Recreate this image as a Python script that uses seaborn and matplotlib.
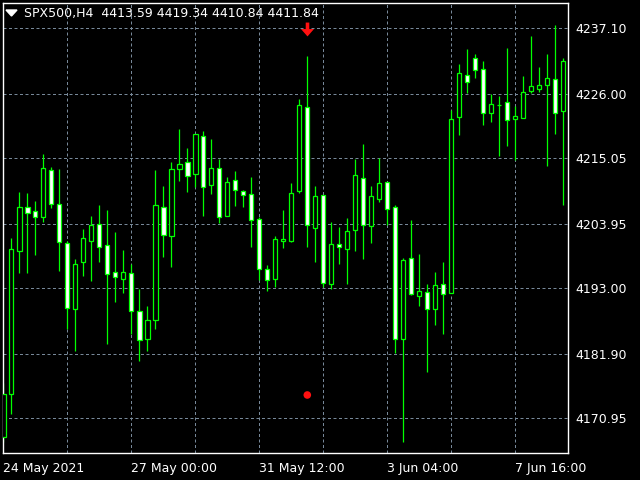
import numpy as np
import pandas as pd
import matplotlib
matplotlib.use("Agg")
import matplotlib.pyplot as plt
import seaborn as sns
from matplotlib.patches import Polygon
from matplotlib.path import Path

# ---------------- data ----------------
title_text = "SPX500,H4  4413.59 4419.34 4410.84 4411.84"

opens = [4167.73, 4175.02, 4199.33, 4206.74, 4206.16, 4205.14, 4213.01, 4207.30, 4200.63, 4189.44,
         4197.41, 4201.02, 4203.91, 4200.34, 4195.71, 4194.53, 4195.54, 4189.10, 4184.45, 4187.57,
         4206.74, 4201.82, 4213.29, 4214.37, 4212.34, 4218.78, 4210.47, 4213.45, 4205.21, 4211.32,
         4209.45, 4208.99, 4204.70, 4196.22, 4194.53, 4201.02, 4201.02, 4209.55, 4223.80, 4203.28,
         4208.77, 4193.68, 4200.46, 4199.61, 4202.94, 4211.66, 4203.52, 4208.20, 4210.98, 4206.74,
         4184.35, 4198.09, 4191.74, 4192.42, 4189.54, 4193.68, 4192.15, 4222.00, 4229.13, 4232.01,
         4230.15, 4222.68, 4224.04, 4224.55, 4221.66, 4221.83, 4226.41, 4226.85, 4227.53, 4228.45,
         4223.02]
highs = [4176.88, 4201.53, 4209.28, 4209.16, 4207.81, 4215.78, 4213.57, 4213.23, 4201.02, 4197.97,
         4203.01, 4205.26, 4207.13, 4206.28, 4202.55, 4199.50, 4197.12, 4192.83, 4190.00, 4213.01,
         4210.35, 4214.37, 4220.02, 4216.75, 4219.12, 4219.63, 4218.32, 4214.98, 4211.83, 4212.84,
         4209.67, 4211.88, 4205.04, 4196.95, 4201.87, 4206.28, 4210.86, 4225.11, 4232.40, 4210.40,
         4208.87, 4204.30, 4203.35, 4204.92, 4214.88, 4217.47, 4210.35, 4215.10, 4210.98, 4207.08,
         4198.09, 4204.58, 4198.82, 4193.73, 4195.76, 4197.46, 4223.24, 4231.04, 4233.54, 4232.74,
         4231.55, 4226.01, 4225.57, 4233.71, 4223.87, 4229.01, 4235.79, 4230.53, 4232.74, 4237.66,
         4232.06]
lows = [4166.88, 4171.63, 4195.64, 4195.64, 4198.65, 4204.30, 4206.67, 4195.98, 4186.04, 4182.41,
        4195.14, 4194.29, 4197.51, 4183.60, 4190.73, 4192.25, 4185.20, 4180.72, 4182.36, 4186.10,
        4198.26, 4196.66, 4211.20, 4209.38, 4210.23, 4205.31, 4209.04, 4204.02, 4205.21, 4207.01,
        4206.74, 4200.05, 4194.41, 4192.59, 4193.27, 4199.78, 4200.90, 4209.21, 4200.05, 4197.51,
        4193.27, 4192.88, 4197.12, 4193.68, 4199.38, 4197.92, 4200.73, 4207.69, 4203.74, 4181.97,
        4166.98, 4191.86, 4190.05, 4178.75, 4186.82, 4185.30, 4192.15, 4219.05, 4226.07, 4228.67,
        4220.75, 4221.26, 4215.49, 4217.19, 4214.76, 4221.83, 4226.18, 4226.30, 4213.79, 4219.22,
        4207.18]
closes = [4175.07, 4199.61, 4206.74, 4205.72, 4205.04, 4213.35, 4207.25, 4200.80, 4189.71, 4197.07,
          4201.53, 4203.68, 4200.05, 4195.37, 4194.86, 4195.71, 4189.10, 4184.18, 4187.57, 4207.08,
          4201.99, 4213.18, 4214.03, 4212.00, 4219.12, 4210.13, 4213.35, 4205.04, 4210.98, 4209.62,
          4208.77, 4204.53, 4196.22, 4194.36, 4201.41, 4201.36, 4209.16, 4224.04, 4203.68, 4208.60,
          4193.85, 4200.46, 4199.95, 4202.72, 4212.17, 4203.68, 4208.60, 4210.81, 4206.50, 4184.45,
          4197.80, 4191.98, 4192.59, 4189.44, 4193.56, 4191.98, 4221.66, 4229.47, 4227.94, 4229.98,
          4222.68, 4224.21, 4224.04, 4221.50, 4222.17, 4226.24, 4227.26, 4227.43, 4228.67, 4222.78,
          4231.50]

time_labels = ["24 May 2021", "27 May 00:00", "31 May 12:00", "3 Jun 04:00", "7 Jun 16:00"]
time_label_bars = [0, 16, 32, 48, 64]
price_ticks = [4170.95, 4181.90, 4193.00, 4203.95, 4215.05, 4226.00, 4237.10]

signal_bar = 38
signal_arrow_price = 4236.90
signal_dot_price = 4174.90

# ---------------- styling ----------------
GREEN = "#00ff00"
GRID = "#778899"
RED = "#ff1010"

sns.set_style("dark", rc={
    "axes.facecolor": "black",
    "figure.facecolor": "black",
    "axes.edgecolor": "white",
    "text.color": "white",
    "xtick.color": "white",
    "ytick.color": "white",
    "axes.grid": False,
})
plt.rcParams["font.family"] = ["DejaVu Sans"]

df = pd.DataFrame({"open": opens, "high": highs, "low": lows, "close": closes})
df["bar"] = np.arange(len(df))
df["bear"] = df["close"] < df["open"]

fig = plt.figure(figsize=(6.4, 4.8), dpi=100)
W, H = 640, 480
ax = fig.add_axes([2.7 / W, 26.7 / H, (568 - 2.7) / W, (453.3 - 2.7) / H])
ax.set_facecolor("black")

# grid
for p in price_ticks:
    ax.axhline(p, color=GRID, lw=0.72, ls=(0, (3, 2.5)), zorder=0)
for b in range(8, 70, 8):
    ax.axvline(b, color=GRID, lw=0.72, ls=(0, (3, 2.5)), zorder=0)

# wicks
ax.vlines(df["bar"], df["low"], df["high"], color=GREEN, lw=0.9, zorder=2)
# bodies
bottoms = np.minimum(df["open"], df["close"])
heights = (df["close"] - df["open"]).abs()
ax.bar(df["bar"], heights, bottom=bottoms, width=0.55,
       color=np.where(df["bear"], "white", "black"),
       edgecolor=GREEN, linewidth=0.9, zorder=3)

# sell arrow (custom down-arrow marker) and signal dot
arrow_marker = Path([(-1.6, 6.2), (1.6, 6.2), (1.6, 0.4), (5.8, 0.4), (0, -6.2),
                     (-5.8, 0.4), (-1.6, 0.4), (-1.6, 6.2)], closed=True)
ax.plot([signal_bar], [signal_arrow_price], marker=arrow_marker, ms=10,
        color=RED, mec=RED, mew=0, ls="none", zorder=5)
sig = pd.DataFrame({"bar": [signal_bar], "price": [signal_dot_price]})
sns.scatterplot(data=sig, x="bar", y="price", ax=ax, color=RED, s=30,
                edgecolor="none", zorder=5, legend=False)

ax.set_xlim(-0.075, 70.5875)
ax.set_ylim(4165.01, 4241.44)
ax.set_xlabel("")
ax.set_ylabel("")

# axes ticks
ax.yaxis.tick_right()
ax.set_yticks(price_ticks)
ax.set_yticklabels([f"{p:.2f}" for p in price_ticks], fontsize=9)
ax.tick_params(axis="y", length=0, pad=5)
ax.set_xticks(time_label_bars)
ax.set_xticklabels(time_labels, fontsize=9, ha="left")
ax.tick_params(axis="x", length=3, width=0.8, pad=3, color="white")
for s in ax.spines.values():
    s.set_color("white")
    s.set_linewidth(1.0)
    s.set_visible(True)

# title block
tri = Polygon([(6 / W, 1 - 10 / H), (17 / W, 1 - 10 / H), (11.5 / W, 1 - 16 / H)],
              closed=True, transform=fig.transFigure, color="white")
fig.patches.append(tri)
fig.text(24 / W, 1 - 14 / H, title_text, fontsize=9, color="white", va="center", ha="left")

fig.savefig("out.png", dpi=100, facecolor="black")
